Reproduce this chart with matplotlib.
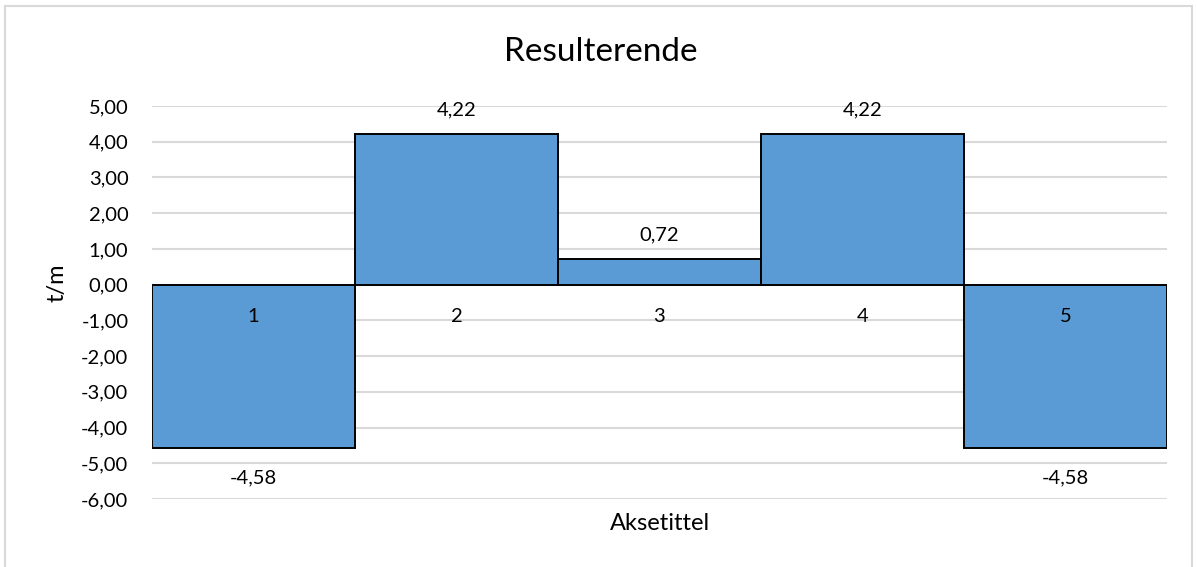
import matplotlib
matplotlib.use("Agg")
import matplotlib.pyplot as plt
from matplotlib.patches import Rectangle
from matplotlib.ticker import FixedLocator

categories = ["1", "2", "3", "4", "5"]
values = [-4.58, 4.22, 0.72, 4.22, -4.58]
yticks = [5, 4, 3, 2, 1, 0, -1, -2, -3, -4, -5, -6]

plt.rcParams["font.family"] = ["Lato", "DejaVu Sans"]

W, H = 1197, 567
fig = plt.figure(figsize=(W / 100, H / 100), dpi=100)

# light chart-area frame
fig.patches.append(Rectangle((5 / W, -0.05), (1192 - 5) / W, 1.05 - 6 / H,
                             transform=fig.transFigure, fill=False,
                             edgecolor="#D9D9D9", linewidth=1.5))

ax = fig.add_axes([152 / W, 1 - 499 / H, (1167 - 152) / W, (499 - 106) / H])

x = list(range(len(categories)))
ax.bar(x, values, width=1.0, color="#5B9BD5", edgecolor="black",
       linewidth=1.4, zorder=3)

LBL = 14.5

ax.set_xlim(-0.5, len(categories) - 0.5)
ax.set_ylim(-6, 5)
ax.yaxis.set_major_locator(FixedLocator(yticks))
ax.set_yticklabels([f"{v:.2f}".replace(".", ",") for v in yticks])
ax.grid(axis="y", color="#D9D9D9", linewidth=1.5, zorder=0)
ax.set_axisbelow(True)
for s in ax.spines.values():
    s.set_visible(False)
ax.tick_params(axis="y", length=0, pad=17, labelsize=LBL, labelcolor="#000000")
ax.set_xticks([])

# category labels just below the zero line
for xi, c in zip(x, categories):
    ax.annotate(c, (xi, 0), xytext=(0, -32), textcoords="offset pixels",
                ha="center", va="center", fontsize=LBL, zorder=5)

# value labels
for xi, v in zip(x, values):
    off = 24 if v >= 0 else -30
    ax.annotate(f"{v:.2f}".replace(".", ","), (xi, v), xytext=(0, off),
                textcoords="offset pixels", ha="center", va="center",
                fontsize=LBL, zorder=5)

fig.text(601 / W, 1 - 52 / H, "Resulterende", ha="center",
         va="center", fontsize=24)
fig.text((152 + 1167) / 2 / W, 1 - 524 / H, "Aksetittel", ha="center",
         va="center", fontsize=17)
fig.text(57 / W, 1 - 283 / H, "t/m", ha="center", va="center",
         fontsize=17, rotation=90)

fig.savefig("out.png", dpi=100)
